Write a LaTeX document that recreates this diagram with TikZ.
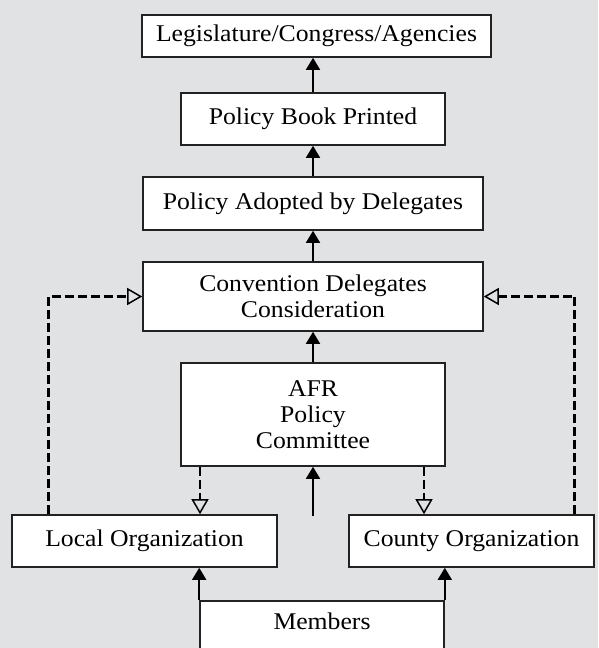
\documentclass[tikz,border=0pt]{standalone}
\usepackage{fontspec}
\setmainfont{Liberation Serif}[FakeStretch=1.07]
\usetikzlibrary{arrows.meta}
\definecolor{bgc}{RGB}{225,226,228}
\definecolor{edge}{RGB}{34,34,34}
\begin{document}
\begin{tikzpicture}[x=1pt,y=-1pt,
  box/.style={draw=edge,fill=white,line width=1.6pt,inner sep=0pt,align=center,
    font=\fontsize{24}{26}\selectfont},
  arr/.style={line width=1.5pt,-{Triangle[length=12pt,width=14pt]}},
  darr/.style={line width=2.8pt,dash pattern=on 9pt off 4pt,
    -{Triangle[open,length=15pt,width=17pt,line width=1.5pt]}}]
\useasboundingbox (0,0) rectangle (598,648);
\clip (0,0) rectangle (598,648);
\fill[bgc] (0,0) rectangle (598,648);

\node[box,minimum width=349pt,minimum height=42pt] (legis) at (316.5,36) {Legislature/Congress/Agencies};
\node[box,minimum width=264pt,minimum height=52pt] (book) at (313,119) {Policy Book Printed};
\node[box,minimum width=340pt,minimum height=53pt] (adopt) at (313,203.5) {Policy Adopted by Delegates};
\node[box,minimum width=340pt,minimum height=69pt] (conv) at (313,296.5) {Convention Delegates\\Consideration};
\node[box,minimum width=264pt,minimum height=103pt] (afr) at (313,414.5) {AFR\\Policy\\Committee};
\node[box,minimum width=265pt,minimum height=52pt] (local) at (144.5,541) {Local Organization};
\node[box,minimum width=245pt,minimum height=52pt] (county) at (471.5,541) {County Organization};
\node[box,minimum width=244pt,text height=29pt,text depth=80pt,anchor=north] (members) at (322,600) {Members};

\coordinate (free) at (313,516);

\draw[arr] (book.north) -- (book.north |- legis.south);
\draw[arr] (adopt.north) -- (adopt.north |- book.south);
\draw[arr] (conv.north) -- (conv.north |- adopt.south);
\draw[arr] (afr.north) -- (afr.north |- conv.south);
\draw[arr] (free) -- (free |- afr.south);
\draw[arr] (members.north west) -- (members.north west |- local.south);
\draw[arr] (members.north east) -- (members.north east |- county.south);

\draw[darr] ([xshift=-113pt]afr.south) -- ([xshift=-113pt]afr.south |- local.north);
\draw[darr] ([xshift=111pt]afr.south) -- ([xshift=111pt]afr.south |- county.north);
\draw[darr] ([xshift=37pt]local.north west) |- (conv.west);
\draw[darr] ([xshift=-20pt]county.north east) |- (conv.east);
\end{tikzpicture}
\end{document}
